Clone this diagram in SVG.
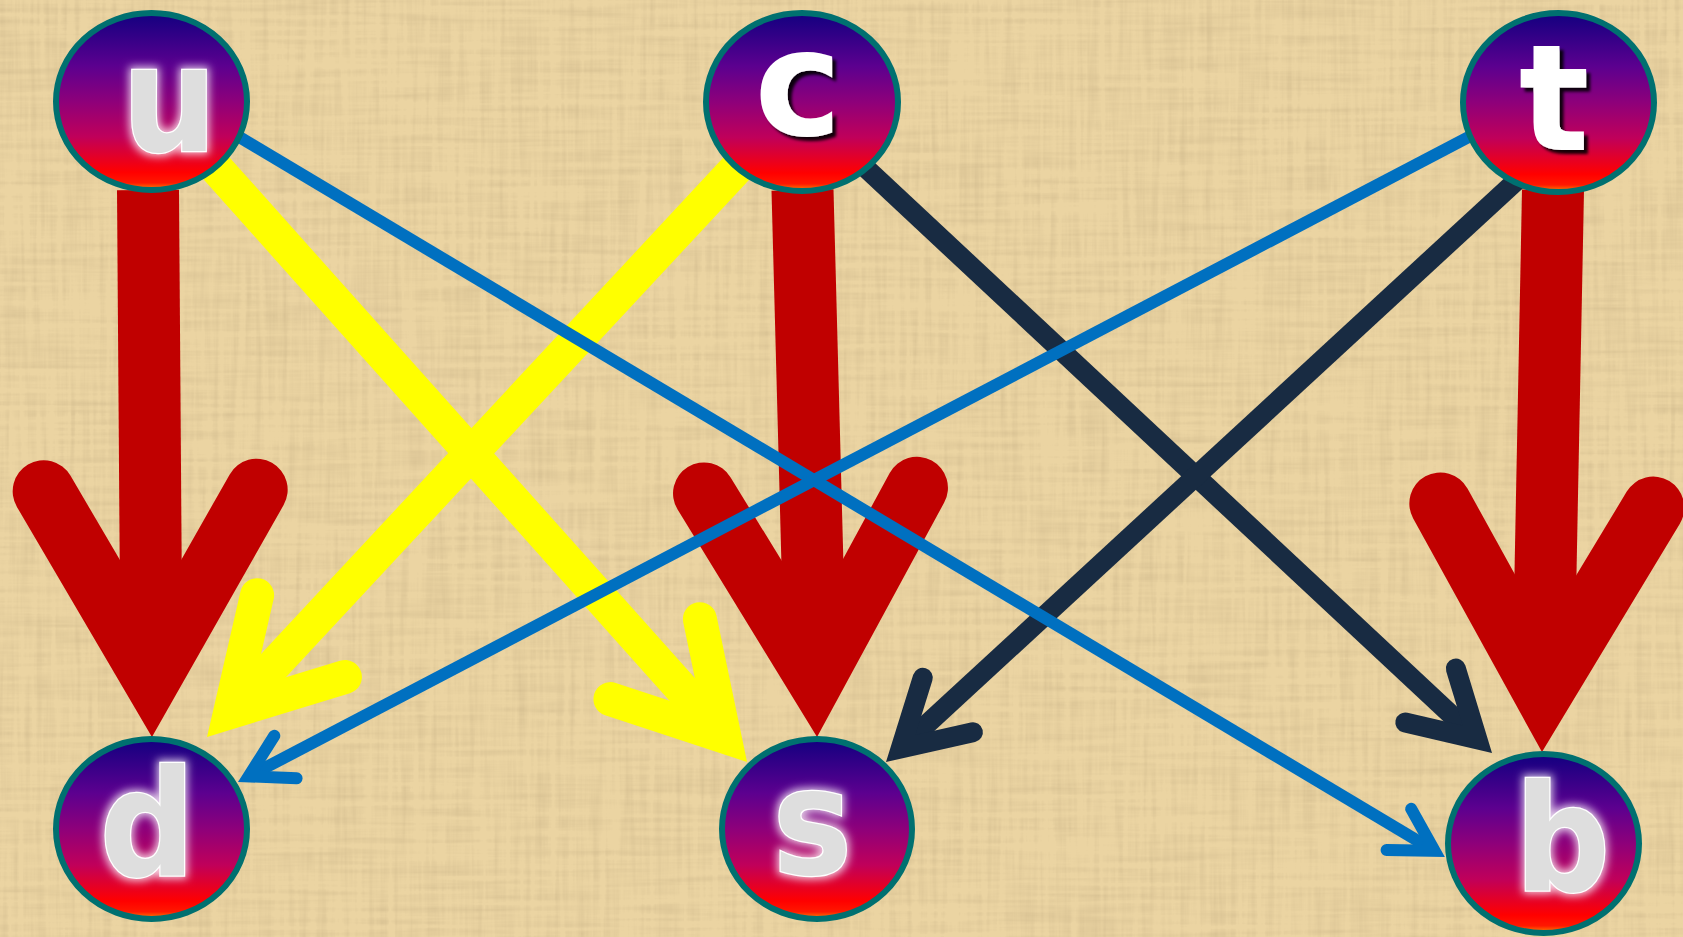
<svg xmlns="http://www.w3.org/2000/svg" width="1683" height="937" viewBox="0 0 1683 937">
<defs>
<style>
.e{fill:none;stroke-linecap:butt}
.red{stroke:#c00000;stroke-width:62;marker-end:url(#mr)}
.yel{stroke:#ffff00;stroke-width:34;marker-end:url(#my)}
.nav{stroke:#182b42;stroke-width:20;marker-end:url(#mn)}
.blu{stroke:#0070c0;stroke-width:12;marker-end:url(#mb)}
.hd{fill:none;stroke-linecap:round;stroke-linejoin:miter;stroke-miterlimit:4}
.node ellipse{fill:url(#ng);stroke:#007070;stroke-width:6}
.lbl{font-family:"DejaVu Sans","Liberation Sans",sans-serif;font-weight:bold;font-size:148px;text-anchor:middle}
.lg{font-family:"DejaVu Sans Condensed","DejaVu Sans","Liberation Sans",sans-serif;font-stretch:condensed;fill:#dedede;stroke:#ffffff;stroke-width:2.5;paint-order:stroke;filter:url(#glow)}
.lw{fill:#ffffff;filter:url(#shadow)}
</style>
<linearGradient id="ng" x1="0" y1="0" x2="0" y2="1">
<stop offset="0" stop-color="#120080"/>
<stop offset="0.3" stop-color="#5c008f"/>
<stop offset="0.5" stop-color="#8e007a"/>
<stop offset="0.7" stop-color="#c0005a"/>
<stop offset="0.9" stop-color="#ff0000"/>
<stop offset="0.96" stop-color="#ff1800"/>
<stop offset="1" stop-color="#ff9000"/>
</linearGradient>
<filter id="glow" x="-40%" y="-40%" width="180%" height="180%">
<feMorphology in="SourceAlpha" operator="dilate" radius="1.5" result="d"/>
<feGaussianBlur in="d" stdDeviation="4" result="b"/>
<feFlood flood-color="#ffffff" flood-opacity="0.8"/>
<feComposite in2="b" operator="in" result="g"/>
<feMerge><feMergeNode in="g"/><feMergeNode in="SourceGraphic"/></feMerge>
</filter>
<filter id="shadow" x="-30%" y="-30%" width="160%" height="160%">
<feDropShadow dx="4" dy="4" stdDeviation="1.5" flood-color="#000000" flood-opacity="0.9"/>
</filter>
<filter id="tex" x="0" y="0" width="1" height="1">
<feTurbulence type="fractalNoise" baseFrequency="0.008 0.16" numOctaves="3" seed="2" result="a"/>
<feTurbulence type="fractalNoise" baseFrequency="0.16 0.008" numOctaves="3" seed="5" result="b"/>
<feComposite in="a" in2="b" operator="arithmetic" k2="0.5" k3="0.5" result="n"/>
<feColorMatrix in="n" type="matrix" values="0 0 0 0 0.62  0 0 0 0 0.48  0 0 0 0 0.26  1.5 0 0 0 -0.62"/>
</filter>
<marker id="mr" markerUnits="userSpaceOnUse" orient="auto" viewBox="-260 -150 360 300" markerWidth="360" markerHeight="300" refX="0" refY="0" overflow="visible">
<path class="hd" d="M-184.5 -106.5 L0 0 L-184.5 106.5" stroke="#c00000" stroke-width="62"/>
</marker>
<marker id="my" markerUnits="userSpaceOnUse" orient="auto" viewBox="-150 -100 220 200" markerWidth="220" markerHeight="200" refX="0" refY="0" overflow="visible">
<path class="hd" d="M-103.9 -60 L0 0 L-103.9 60" stroke="#ffff00" stroke-width="34"/>
</marker>
<marker id="mn" markerUnits="userSpaceOnUse" orient="auto" viewBox="-100 -60 150 120" markerWidth="150" markerHeight="120" refX="0" refY="0" overflow="visible">
<path class="hd" d="M-64.1 -37 L0 0 L-64.1 37" stroke="#182b42" stroke-width="20"/>
</marker>
<marker id="mb" markerUnits="userSpaceOnUse" orient="auto" viewBox="-70 -40 100 80" markerWidth="100" markerHeight="80" refX="0" refY="0" overflow="visible">
<path class="hd" d="M-41.6 -24 L0 0 L-41.6 24" stroke="#0070c0" stroke-width="12"/>
</marker>
</defs>
<rect x="0" y="0" width="1683" height="937" fill="#ebd4a2"/>
<rect x="0" y="0" width="1683" height="937" filter="url(#tex)"/>
<g id="edges">
<path class="e red" d="M148 190 L151.5 675"/>
<path class="e red" d="M802.5 190 L815.4 675"/>
<path class="e red" d="M1553 190 L1543.2 690"/>
<path class="e yel" d="M213 164.5 L724.4 736.6"/>
<path class="e yel" d="M740 164.7 L230.2 712.1"/>
<path class="e nav" d="M861 163.5 L1477.4 739.3"/>
<path class="e nav" d="M1522 175.5 L900.7 748.4"/>
<path class="e blu" d="M226 129 L1434.6 850.8"/>
<path class="e blu" d="M1483 129.5 L248.6 776.4"/>
</g>
<g id="node-u" class="node"><ellipse cx="151.5" cy="101.5" rx="95.5" ry="88.5"/><text class="lbl lg" x="169.5" y="151">u</text></g>
<g id="node-c" class="node"><ellipse cx="802" cy="102" rx="96" ry="89"/><text class="lbl lw" x="798" y="134.5">c</text></g>
<g id="node-t" class="node"><ellipse cx="1558.5" cy="102.5" rx="95.5" ry="89.5"/><text class="lbl lw" x="1554" y="150">t</text></g>
<g id="node-d" class="node"><ellipse cx="151.5" cy="829" rx="95.5" ry="90"/><text class="lbl lg" x="147.5" y="876">d</text></g>
<g id="node-s" class="node"><ellipse cx="817" cy="829" rx="95" ry="90"/><text class="lbl lg" x="812.5" y="874">s</text></g>
<g id="node-b" class="node"><ellipse cx="1543.5" cy="843.5" rx="95.5" ry="89.5"/><text class="lbl lg" x="1562.5" y="891">b</text></g>
</svg>
